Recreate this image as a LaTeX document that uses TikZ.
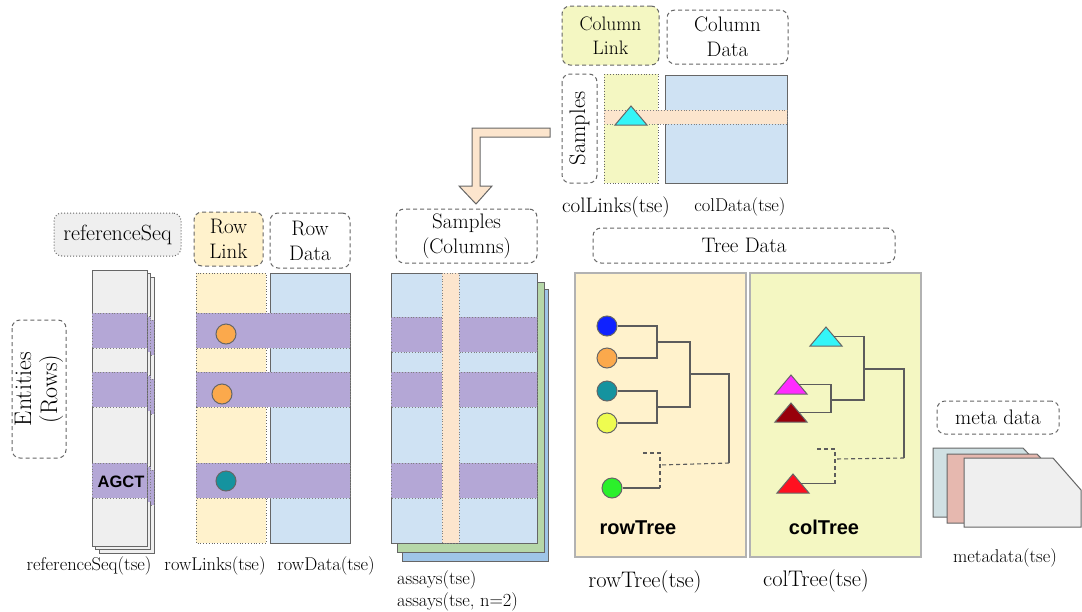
\documentclass[tikz,border=0pt]{standalone}
\usepackage{fontspec}
\newfontfamily\arialfont{Liberation Sans}
\usepackage{tikz}
\usetikzlibrary{positioning,calc}

\definecolor{cellblue}{HTML}{CFE2F3}
\definecolor{cream}{HTML}{FFF2CC}
\definecolor{peach}{HTML}{FCE5CD}
\definecolor{lilac}{HTML}{B4A7D6}
\definecolor{limey}{HTML}{F4F7C2}
\definecolor{sheetgray}{HTML}{EFEFEF}
\definecolor{assaygreen}{HTML}{B6D7A8}
\definecolor{assayblue}{HTML}{9FC5E8}
\definecolor{metablue}{HTML}{D0E0E3}
\definecolor{metapink}{HTML}{E6B8AF}
\definecolor{linegray}{HTML}{666666}
\definecolor{dotblue}{HTML}{0F22FF}
\definecolor{dotorange}{HTML}{FBA94C}
\definecolor{dotteal}{HTML}{15939F}
\definecolor{dotyellow}{HTML}{EEFC50}
\definecolor{dotgreen}{HTML}{2BF02B}
\definecolor{tricyan}{HTML}{33F5F8}
\definecolor{trimagenta}{HTML}{FF2BFF}
\definecolor{tridarkred}{HTML}{98000B}
\definecolor{trired}{HTML}{FF1020}

\tikzset{
    tag/.style={
        draw=linegray,
        line width=1pt,
        dash pattern=on 4pt off 3pt,
        rounded corners=8pt,
        align=center,
        inner sep=0pt,
        font=\fontsize{21}{25}\selectfont
    },
    lbl/.style={font=\fontsize{18.5}{22}\selectfont, inner sep=0pt},
    midlbl/.style={font=\fontsize{21}{24}\selectfont, inner sep=0pt},
    biglbl/.style={font=\fontsize{22.5}{26}\selectfont, inner sep=0pt},
    cell/.style={draw=linegray, line width=1pt},
    band/.style={fill=lilac, draw=gray, dotted, line width=0.8pt},
    dot/.style={circle, draw=linegray, line width=1pt, minimum size=20pt, inner sep=0pt},
    branch/.style={draw=linegray!90!black, line width=1.1pt},
    dashbranch/.style={branch, dash pattern=on 4pt off 3pt},
    panel/.style={draw=gray!60, line width=1.2pt},
    boldtxt/.style={font=\arialfont\bfseries\fontsize{20}{24}\selectfont, inner sep=0pt},
    leaftri/.pic={
        \draw[fill=#1, draw=linegray, line width=1pt] (-16,9.5) -- (0,-9.5) -- (16,9.5) -- cycle;
        \coordinate (-r) at (8,0);
    }
}

\begin{document}
\begin{tikzpicture}[x=1pt, y=-1pt]
    \useasboundingbox (0,0) rectangle (1082,611);

    % rows: entities, referenceSeq, rowLinks, rowData
    \node[tag, rotate=90, minimum width=138, minimum height=54, font=\fontsize{24}{26}\selectfont] (entities) at (39,389) {Entities\\(Rows)};
    \node[tag, fill=sheetgray, dash pattern=on 1pt off 2pt, minimum width=127, minimum height=43, font=\fontsize{22}{25}\selectfont] (refseq) at (117.5,234.5) {referenceSeq};
    \node[tag, fill=cream, minimum width=69, minimum height=54] (rowlink) at (228.5,239) {Row\\Link};
    \node[tag, minimum width=80, minimum height=55] (rowdata) at (310,240.5) {Row\\Data};

    \foreach \d in {7,3.5,0} {
        \draw[cell, fill=sheetgray] (92+\d,270+\d) rectangle (147+\d,546+\d);
        \foreach \y in {313,372,463}
            \draw[band] (92+\d,\y+\d) rectangle (147+\d,\y+35+\d);
    }
    \node[font=\arialfont\bfseries\fontsize{16.5}{18}\selectfont, inner sep=0pt] (agct) at (121,482) {AGCT};

    \draw[linegray, dotted, line width=0.8pt, fill=cream] (196,273) rectangle (266,543);
    \draw[cell, fill=cellblue] (270,273) rectangle (350,543);
    \foreach \y in {313,372,463}
        \draw[band] (196,\y) rectangle (350,\y+35);
    \node[dot, fill=dotorange] (rl1) at (226,334) {};
    \node[dot, fill=dotorange] (rl2) at (222,394) {};
    \node[dot, fill=dotteal] (rl3) at (226,481) {};

    \node[lbl] (refseqLbl) at (89,566) {referenceSeq(tse)};
    \node[lbl] (rowlinksLbl) at (215,566) {rowLinks(tse)};
    \node[lbl] (rowdataLbl) at (326,566) {rowData(tse)};

    % assays
    \node[tag, minimum width=141, minimum height=54] (samplescol) at (466.5,236) {Samples\\(Columns)};
    \draw[cell, fill=assayblue] (402,289) rectangle (548,561);
    \draw[cell, fill=assaygreen] (397,282) rectangle (544,552);
    \draw[cell, fill=cellblue] (391,273) rectangle (537,543);
    \foreach \y in {317,372,463}
        \draw[band] (391,\y) rectangle (537,\y+35);
    \draw[fill=peach, draw=gray, dotted, line width=0.8pt] (442,273) rectangle (459,543);
    \node[lbl, align=left, anchor=west] (assaysLbl) at (397,591) {assays(tse)\\assays(tse, n=2)};

    % columns
    \node[tag, fill=limey, minimum width=97, minimum height=59, font=\fontsize{19.5}{24}\selectfont] (collink) at (610.5,35.5) {Column\\Link};
    \node[tag, minimum width=121, minimum height=54] (coldata) at (727.5,37) {Column\\Data};
    \node[tag, rotate=90, minimum width=109, minimum height=35, font=\fontsize{22.5}{25}\selectfont] (samples) at (579.5,128.5) {Samples};
    \draw[linegray, dotted, line width=0.8pt, fill=limey] (604,74) rectangle (658,183);
    \draw[cell, fill=cellblue] (665,75) rectangle (787,183);
    \draw[fill=peach, draw=gray, dotted, line width=0.8pt] (604,110) rectangle (787,124);
    \pic (cl1) at (631,115.5) {leaftri=tricyan};
    \node[midlbl] (collinksLbl) at (616,207) {colLinks(tse)};
    \node[lbl] (coldataLbl) at (740,207) {colData(tse)};

    % bent arrow down to the assays
    \draw[cell, fill=peach] (550,128) -- (472,128) -- (472,186) -- (459,186) -- (476,204)
        -- (492,186) -- (480,186) -- (480,137) -- (550,137) -- cycle;

    % trees
    \node[tag, minimum width=302, minimum height=35] (treedata) at (744,245.5) {Tree Data};
    \draw[panel, fill=cream] (575,273) rectangle (746,557);
    \draw[panel, fill=limey] (750,273) rectangle (921,557);

    \node[dot, fill=dotblue] (rt1) at (607,326) {};
    \node[dot, fill=dotorange] (rt2) at (607,358) {};
    \node[dot, fill=dotteal] (rt3) at (607,391) {};
    \node[dot, fill=dotyellow] (rt4) at (607,423) {};
    \node[dot, fill=dotgreen] (rt5) at (612,488) {};
    \coordinate (rn1) at (657,342);
    \coordinate (rn2) at (657,407);
    \coordinate (rn3) at (690,374);
    \coordinate (rroot) at (729,463);
    \coordinate (rn5) at (660,465);
    \coordinate (rstub) at (643,453);
    \coordinate (rn5b) at (660,488);
    \draw[branch] (rt1) -| (rn1) |- (rt2);
    \draw[branch] (rt3) -| (rn2) |- (rt4);
    \draw[branch] (rn1) -| (rn3) |- (rn2);
    \draw[branch] (rn3) -| (rroot);
    \draw[dashbranch] (rroot) -- (rn5);
    \draw[dashbranch] (rstub) -| (rn5b);
    \draw[branch] (rt5) -- (rn5b);

    \pic (ct1) at (826,336.5) {leaftri=tricyan};
    \pic (ct2) at (791,384.5) {leaftri=trimagenta};
    \pic (ct3) at (791,412.5) {leaftri=tridarkred};
    \pic (ct4) at (793,483.5) {leaftri=trired};
    \coordinate (cn1) at (831,400);
    \coordinate (cn2) at (864,369);
    \coordinate (croot) at (904,458);
    \coordinate (cn3) at (835,459);
    \coordinate (cstub) at (817,449);
    \coordinate (cn3b) at (835,483.5);
    \draw[branch] (ct1-r) -| (cn2) |- (cn1);
    \draw[branch] (ct2-r) -| (cn1) |- (ct3-r);
    \draw[branch] (cn2) -| (croot);
    \draw[dashbranch] (croot) -- (cn3);
    \draw[dashbranch] (cstub) -| (cn3b);
    \draw[branch] (ct4-r) -- (cn3b);

    \node[boldtxt] (rowtreeTxt) at (638,528) {rowTree};
    \node[boldtxt] (coltreeTxt) at (824,527) {colTree};
    \node[biglbl] (rowtreeLbl) at (645,582) {rowTree(tse)};
    \node[biglbl] (coltreeLbl) at (816,581) {colTree(tse)};

    % metadata
    \node[tag, minimum width=122, minimum height=33] (metadata) at (998,417.5) {meta data};
    \draw[cell, fill=metablue] (933,448) -- (1023,448) -- (1053,480) -- (1053,517) -- (933,517) -- cycle;
    \draw[cell, fill=metapink] (947,454) -- (1037,454) -- (1067,486) -- (1067,523) -- (947,523) -- cycle;
    \draw[cell, fill=sheetgray] (964,458) -- (1053,458) -- (1081,490) -- (1081,527) -- (964,527) -- cycle;
    \node[lbl] (metadataLbl) at (1005,558) {metadata(tse)};
\end{tikzpicture}
\end{document}
